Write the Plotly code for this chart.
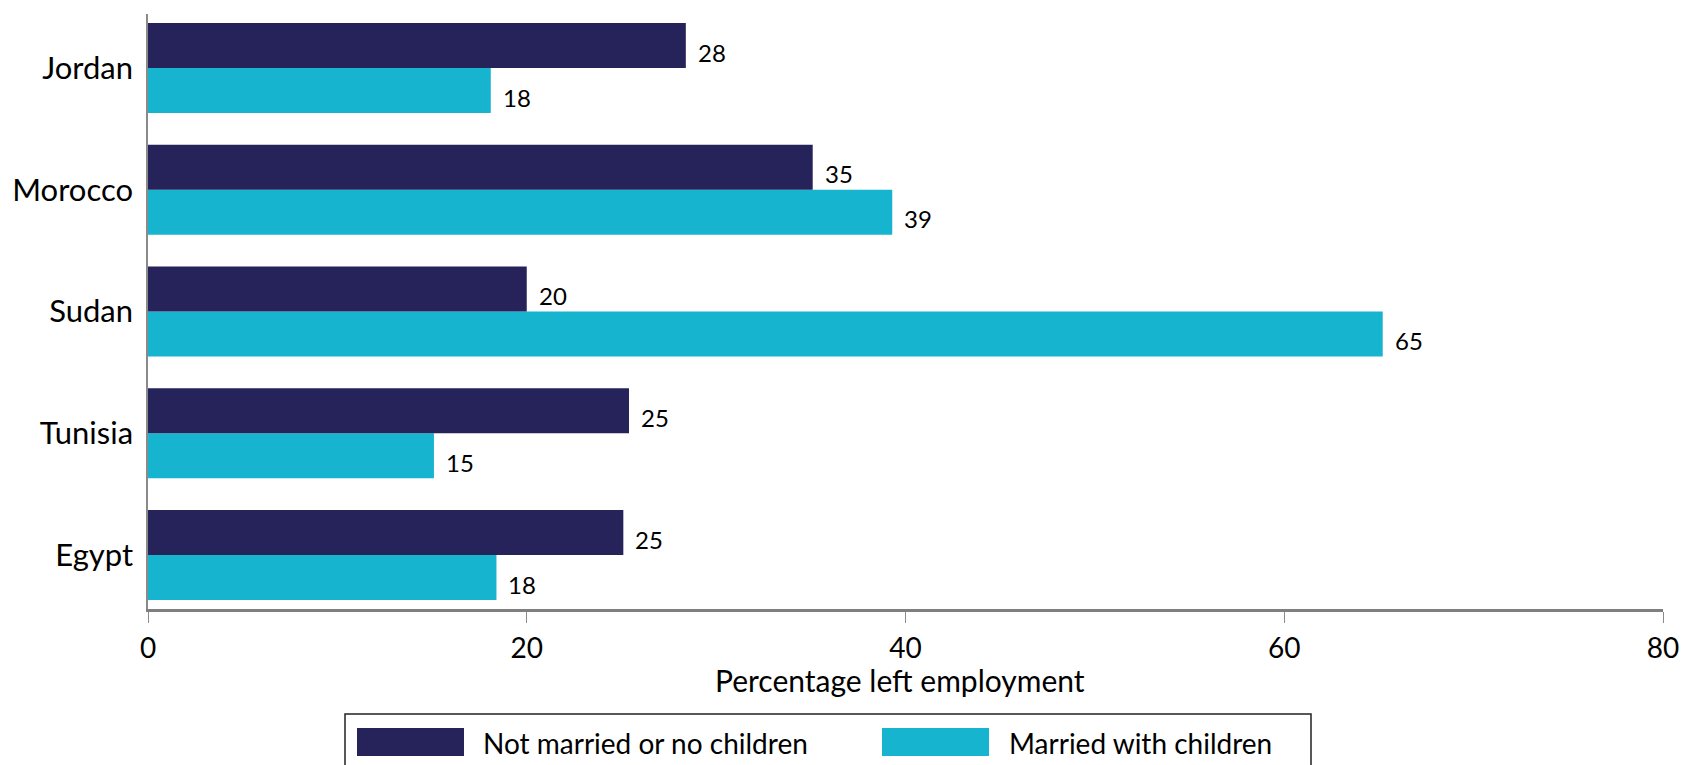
import plotly.graph_objects as go

countries = ["Egypt", "Tunisia", "Sudan", "Morocco", "Jordan"]
not_married = [25.1, 25.4, 20.0, 35.1, 28.4]
married_children = [18.4, 15.1, 65.2, 39.3, 18.1]
x_ticks = [0, 20, 40, 60, 80]
series_names = ["Not married or no children", "Married with children"]

DARK = "#25235A"
CYAN = "#17B4D0"
FONT = "Lato"

W, H = 1682, 765
L, R, T, B = 148, 1663, 14, 609

def px_x(p):
    return (p - L) / (R - L)

def px_y(p):
    return (B - p) / (B - T)

fig = go.Figure()
fig.add_trace(go.Bar(y=countries, x=married_children, orientation="h", name=series_names[1],
                     marker=dict(color=CYAN, line=dict(width=0)), showlegend=False))
fig.add_trace(go.Bar(y=countries, x=not_married, orientation="h", name=series_names[0],
                     marker=dict(color=DARK, line=dict(width=0)), showlegend=False))

annotations = []
for c, v in zip(countries, not_married):
    annotations.append(dict(x=v, y=c, xref="x", yref="y", text=f"{v:.0f}", showarrow=False,
                            xanchor="left", yanchor="middle", xshift=10, yshift=16,
                            font=dict(family=FONT, size=24, color="black")))
for c, v in zip(countries, married_children):
    annotations.append(dict(x=v, y=c, xref="x", yref="y", text=f"{v:.0f}", showarrow=False,
                            xanchor="left", yanchor="middle", xshift=10, yshift=-29,
                            font=dict(family=FONT, size=24, color="black")))

# custom legend
shapes = [
    dict(type="rect", xref="paper", yref="paper", x0=px_x(345), x1=px_x(1311),
         y0=px_y(714), y1=px_y(790), line=dict(color="#222222", width=1.5), fillcolor="white"),
    dict(type="rect", xref="paper", yref="paper", x0=px_x(357), x1=px_x(464),
         y0=px_y(728), y1=px_y(756), line=dict(width=0), fillcolor=DARK),
    dict(type="rect", xref="paper", yref="paper", x0=px_x(882), x1=px_x(989),
         y0=px_y(728), y1=px_y(756), line=dict(width=0), fillcolor=CYAN),
]
annotations.append(dict(x=px_x(481), y=px_y(743), xref="paper", yref="paper", text=series_names[0],
                        showarrow=False, xanchor="left", yanchor="middle",
                        font=dict(family=FONT, size=28, color="black")))
annotations.append(dict(x=px_x(1007), y=px_y(743), xref="paper", yref="paper", text=series_names[1],
                        showarrow=False, xanchor="left", yanchor="middle",
                        font=dict(family=FONT, size=28, color="black")))
annotations.append(dict(x=px_x(900), y=px_y(680), xref="paper", yref="paper", text="Percentage left employment",
                        showarrow=False, xanchor="center", yanchor="middle",
                        font=dict(family=FONT, size=30, color="black")))

fig.update_layout(
    width=W, height=H,
    margin=dict(l=L, r=W - R, t=T, b=H - B, autoexpand=False),
    paper_bgcolor="white", plot_bgcolor="white",
    barmode="group", bargap=0.26, bargroupgap=0,
    font=dict(family=FONT, color="black"),
    shapes=shapes, annotations=annotations,
    xaxis=dict(range=[0, 80], tickvals=x_ticks, showgrid=False, zeroline=False, automargin=False,
               showline=True, linecolor="#7f7f7f", linewidth=2.5,
               ticks="outside", ticklen=11, tickcolor="#8a8a8a", tickwidth=1.2,
               ticklabelstandoff=2,
               tickfont=dict(family=FONT, size=28, color="black")),
    yaxis=dict(categoryorder="array", categoryarray=countries, range=[-0.4435, 4.4435],
               showgrid=False, zeroline=False, showline=True, linecolor="#8a8a8a", linewidth=1.5,
               ticks="", ticklabelstandoff=7, automargin=False,
               tickfont=dict(family=FONT, size=31, color="black")),
)

fig.write_html("out.html")
